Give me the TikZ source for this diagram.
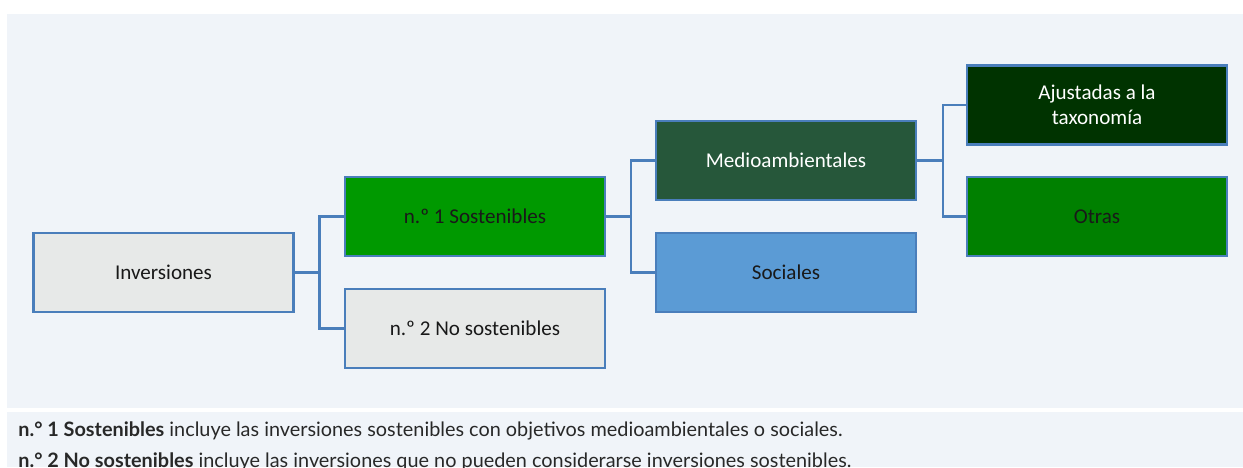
\documentclass[tikz,border=0pt]{standalone}
\usepackage{fontspec}
\setmainfont{Carlito}
\newfontfamily\notefont{Lato}
\usepackage{xcolor}
\definecolor{invpanel}{RGB}{240,244,249}
\definecolor{invedge}{RGB}{74,126,187}
\definecolor{invgray}{RGB}{231,233,232}
\definecolor{invgreen}{RGB}{0,153,0}
\definecolor{invforest}{RGB}{38,87,58}
\definecolor{invsky}{RGB}{91,155,213}
\definecolor{invdark}{RGB}{0,51,0}
\definecolor{invleaf}{RGB}{0,128,0}
\definecolor{invnote}{RGB}{40,40,40}
\usetikzlibrary{positioning}

\begin{document}
\begin{tikzpicture}[x=0.02cm, y=-0.02cm,
  invbox/.style={draw=invedge, line width=1.2pt, minimum width=5.2cm,
    minimum height=1.58cm, inner sep=0pt, align=center,
    font=\fontsize{12}{14}\selectfont, text=black!90},
  branch/.style={draw=invedge, line width=1.2pt},
  notetext/.style={anchor=base west, inner sep=0pt, text=invnote,
    font=\notefont\fontsize{11.3}{13}\selectfont}]
  \useasboundingbox (0,0) rectangle (1243,467);

  % Background panels
  \fill[invpanel] (7,14) rectangle (1243,408);
  \fill[invpanel] (7,412) rectangle (1243,467);

  % Level 1
  \node[invbox, fill=invgray] (inv) at (163.5,272.5) {Inversiones};

  % Level 2
  \node[invbox, fill=invgreen] (sost) at (475,216.5) {n.º 1 Sostenibles};
  \node[invbox, fill=invgray] (nosost) at (475,328.5) {n.º 2 No sostenibles};

  % Level 3
  \node[invbox, fill=invforest, text=white] (medio) at (786,160.5) {Medioambientales};
  \node[invbox, fill=invsky] (soc) at (786,272.5) {Sociales};

  % Level 4
  \node[invbox, fill=invdark, text=white] (ajust) at (1097,105) {Ajustadas a la\\taxonomía};
  \node[invbox, fill=invleaf] (otras) at (1097,216.5) {Otras};

  % Branches
  \draw[branch] (inv.east) -- ++(25,0) |- (sost.west);
  \draw[branch] (inv.east) -- ++(25,0) |- (nosost.west);
  \draw[branch] (sost.east) -- ++(25,0) |- (medio.west);
  \draw[branch] (sost.east) -- ++(25,0) |- (soc.west);
  \draw[branch] (medio.east) -- ++(26,0) |- (ajust.west);
  \draw[branch] (medio.east) -- ++(26,0) |- (otras.west);

  % Notes
  \node[notetext] (note1) at (18,436)
    {\textbf{n.° 1 Sostenibles} incluye las inversiones sostenibles con objetivos medioambientales o sociales.};
  \node[notetext] (note2) at (18,467)
    {\textbf{n.° 2 No sostenibles} incluye las inversiones que no pueden considerarse inversiones sostenibles.};
\end{tikzpicture}
\end{document}
